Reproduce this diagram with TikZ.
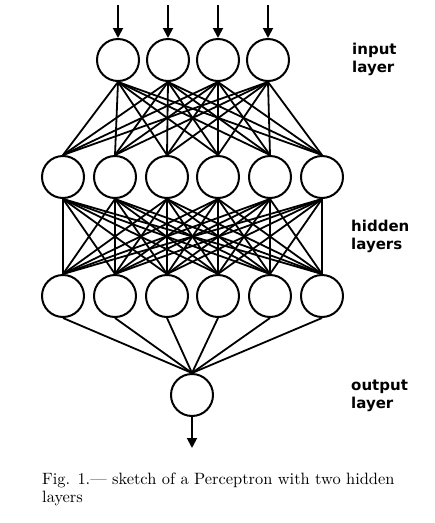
\documentclass[tikz,border=0pt]{standalone}
\usepackage{graphicx}
\usepackage{fontspec}
\newfontfamily\labelfont{DejaVu Sans}
\usetikzlibrary{positioning, arrows.meta, calc}

\begin{document}
\begin{tikzpicture}[
        x=1pt, y=-1pt,
        neuron/.style={circle, draw=black, line width=2pt, minimum size=42pt, inner sep=0pt},
        link/.style={line width=1.8pt, black},
        arr/.style={-{Triangle[length=10pt, width=10pt]}, line width=1.9pt, black},
        layertext/.style={anchor=north west, align=left, inner sep=0pt, font=\labelfont\bfseries\fontsize{15}{17.5}\selectfont},
    ]
        \useasboundingbox (0,0) rectangle (435,523);

        % input layer
        \foreach \i/\x in {1/118, 2/168, 3/218, 4/268}
            \node[neuron] (in\i) at (\x,60) {};

        % hidden layers
        \foreach \i/\x in {1/63, 2/115, 3/167, 4/218, 5/270, 6/322} {
            \node[neuron] (ha\i) at (\x,177) {};
            \node[neuron] (hb\i) at (\x,296) {};
        }

        % output layer
        \node[neuron] (out) at (192,395) {};

        % inputs and output
        \foreach \i in {1,...,4} {
            \coordinate (src\i) at ($(in\i.north)+(0,-33)$);
            \draw[arr] (src\i) -- (in\i.north);
        }
        \coordinate (sink) at ($(out.south)+(0,31)$);
        \draw[arr] (out.south) -- (sink);

        % connections
        \foreach \i in {1,...,4}
            \foreach \j in {1,...,6}
                \draw[link] (in\i.south) -- (ha\j.north);
        \foreach \i in {1,...,6}
            \foreach \j in {1,...,6}
                \draw[link] (ha\i.south) -- (hb\j.north);
        \foreach \i in {1,...,6}
            \draw[link] (hb\i.south) -- (out.north);

        % labels
        \node[layertext] (lin) at (352,43) {input\\layer};
        \node[layertext] (lhid) at (351,220) {hidden\\layers};
        \node[layertext] (lout) at (351,380) {output\\layer};

        \node[anchor=north west, inner sep=0pt] (caption) at (42,472)
            {\scalebox{1.64}{\fontsize{10}{10.8}\selectfont\begin{tabular}{@{}l@{}}Fig. 1.--- sketch of a Perceptron with two hidden\\layers\end{tabular}}};
    \end{tikzpicture}
\end{document}
